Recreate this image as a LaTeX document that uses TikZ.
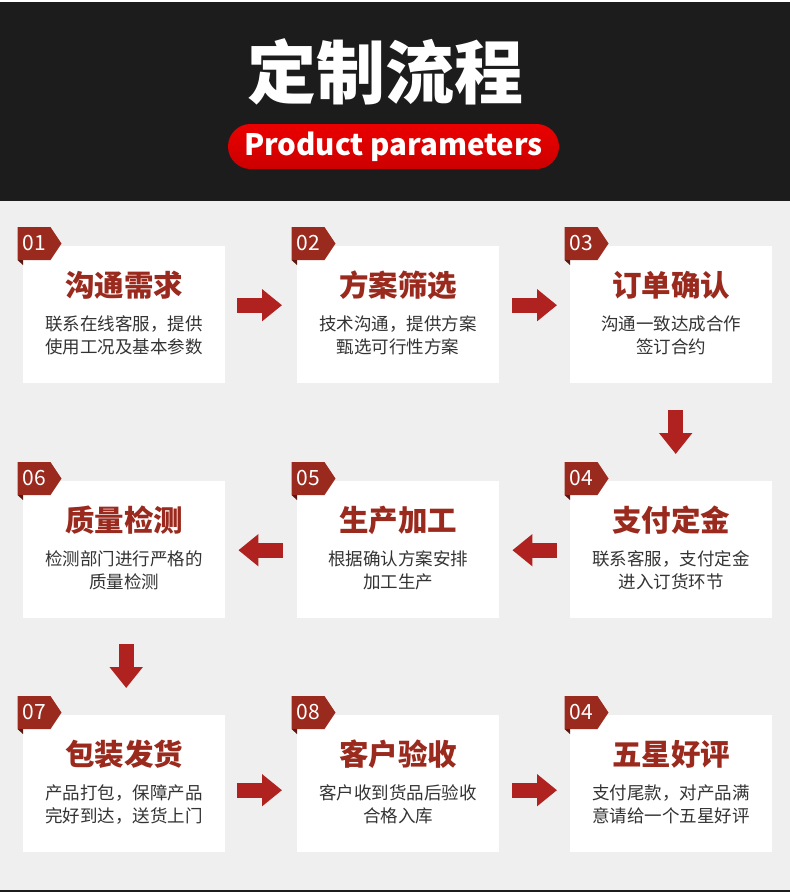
\documentclass[tikz,border=0pt]{standalone}
\usepackage{fontspec}
\setmainfont{Noto Sans CJK SC}
\usetikzlibrary{arrows.meta,calc}
\definecolor{darkbg}{HTML}{1C1C1C}
\definecolor{lightbg}{HTML}{EFEFEF}
\definecolor{brick}{HTML}{9A2A1E}
\definecolor{brickdark}{HTML}{5A1810}
\definecolor{arrowred}{HTML}{B0221F}
\definecolor{pilltop}{HTML}{EA0000}
\definecolor{pillbottom}{HTML}{CC0000}
\definecolor{bodytext}{HTML}{333333}

\tikzset{
  cardbox/.style={fill=white, draw=none, anchor=north west, minimum width=202pt, minimum height=137pt, inner sep=0pt},
  badgetext/.style={text=white, inner sep=0pt, font=\fontsize{21}{22}\selectfont},
  cardtitle/.style={text=brick, inner sep=0pt, font=\bfseries\fontsize{29.5}{31}\selectfont},
  carddesc/.style={text=bodytext, inner sep=0pt, font=\fontsize{17.5}{19}\selectfont},
  flowarrow/.style={draw=arrowred, line width=15pt, -{Triangle[length=20pt,width=31pt]}},
  headtitle/.style={text=white, inner sep=0pt, font=\bfseries\fontsize{69}{72}\selectfont},
  pill/.style={rounded corners=22.5pt, minimum width=331pt, minimum height=45pt, inner sep=0pt,
    top color=pilltop, bottom color=pillbottom, text=white, font=\bfseries\fontsize{29.5}{31}\selectfont}
}

\newcommand{\flowcard}[7]{%
  \node[cardbox] (#1) at (#2,#3) {};
  \fill[brick] (#2-5.5,#3-19) -- ++(33,0) -- ++(11,16.5) -- ++(-11,16.5) -- ++(-33,0) -- cycle;
  \fill[brickdark] (#2-5.5,#3+14) -- (#2,#3+14) -- (#2,#3+19) -- cycle;
  \node[badgetext] (#1n) at (#2+11.5,#3-2.5) {#4};
  \node[cardtitle] (#1t) at ($(#1.north)+(0,39)$) {#5};
  \node[carddesc] (#1a) at ($(#1.north)+(0,78)$) {#6};
  \node[carddesc] (#1b) at ($(#1.north)+(0,101)$) {#7};
}

\begin{document}
\begin{tikzpicture}[x=1pt,y=-1pt]
\useasboundingbox (0,0) rectangle (790,892);
\fill[lightbg] (0,0) rectangle (790,892);
\fill[white] (0,0) rectangle (790,2);
\fill[darkbg] (0,2) rectangle (790,201);
\fill[darkbg] (0,890) rectangle (790,892);

\node[headtitle] (title) at (385.5,72) {定制流程};
\node[pill] (subtitle) at (393.5,146.5) {Product parameters};

\flowcard{c1}{23}{246}{01}{沟通需求}{联系在线客服，提供}{使用工况及基本参数}
\flowcard{c2}{297}{246}{02}{方案筛选}{技术沟通，提供方案}{甄选可行性方案}
\flowcard{c3}{570}{246}{03}{订单确认}{沟通一致达成合作}{签订合约}
\flowcard{c6}{23}{481}{06}{质量检测}{检测部门进行严格的}{质量检测}
\flowcard{c5}{297}{481}{05}{生产加工}{根据确认方案安排}{加工生产}
\flowcard{c4}{570}{481}{04}{支付定金}{联系客服，支付定金}{进入订货环节}
\flowcard{c7}{23}{715}{07}{包装发货}{产品打包，保障产品}{完好到达，送货上门}
\flowcard{c8}{297}{715}{08}{客户验收}{客户收到货品后验收}{合格入库}
\flowcard{c9}{570}{715}{04}{五星好评}{支付尾款，对产品满}{意请给一个五星好评}

% row 1
\draw[flowarrow] ($(c1.east)+(12,-9.5)$) -- ($(c2.west)+(-15,-9.5)$);
\draw[flowarrow] ($(c2.east)+(13,-9.5)$) -- ($(c3.west)+(-13,-9.5)$);
% down right
\draw[flowarrow, -{Triangle[length=21pt,width=32pt]}] ($(c3.south)+(4.5,27)$) -- ($(c4.north)+(4.5,-27)$);
% row 2
\draw[flowarrow] ($(c4.west)+(-13,0.5)$) -- ($(c5.east)+(13,0.5)$);
\draw[flowarrow] ($(c5.west)+(-14,0.5)$) -- ($(c6.east)+(13,0.5)$);
% down left
\draw[flowarrow, -{Triangle[length=21pt,width=32pt]}] ($(c6.south)+(2,26)$) -- ($(c7.north)+(2,-27)$);
% row 3
\draw[flowarrow] ($(c7.east)+(12,6.5)$) -- ($(c8.west)+(-15,6.5)$);
\draw[flowarrow] ($(c8.east)+(13,6.5)$) -- ($(c9.west)+(-13,6.5)$);
\end{tikzpicture}
\end{document}
